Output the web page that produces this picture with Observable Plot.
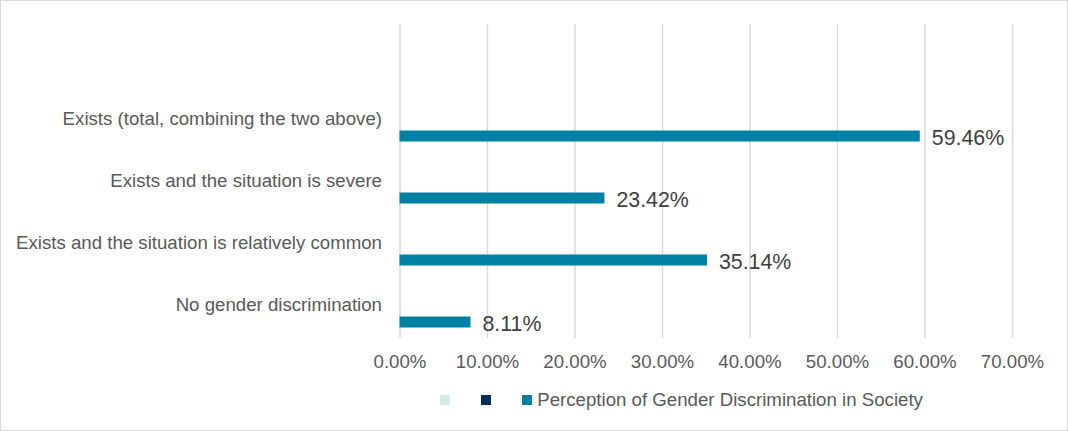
<!DOCTYPE html>
<html>
<head>
<meta charset="utf-8">
<script src="https://cdn.jsdelivr.net/npm/d3@7"></script>
<script src="https://cdn.jsdelivr.net/npm/@observablehq/plot@0.6"></script>
<style>
  html, body { margin: 0; padding: 0; background: #fff; }
  #wrap { position: relative; width: 1068px; height: 431px; overflow: hidden; font-family: "Liberation Sans", Arial, sans-serif; }
  #frame { position: absolute; left: 0; top: 0; width: 1068px; height: 431px; box-sizing: border-box; border: 1.5px solid #d9d9d9; pointer-events: none; }
  #chart { position: absolute; left: 0; top: 0; }
  #legend { position: absolute; left: 440px; top: 388.5px; height: 22px; display: flex; align-items: center; font-size: 18.67px; color: #595959; white-space: nowrap; }
  .sw { width: 10px; height: 10px; display: inline-block; }
</style>
</head>
<body>
<div id="wrap">
  <div id="chart"></div>
  <div id="legend"></div>
  <div id="frame"></div>
</div>
<script>
// Categories, top to bottom (the first band is an empty Excel category)
const categories = ["", "Exists (total, combining the two above)", "Exists and the situation is severe", "Exists and the situation is relatively common", "No gender discrimination"];
const values = [null, 0.5946, 0.2342, 0.3514, 0.0811];
const seriesNames = ["", "", "Perception of Gender Discrimination in Society"];
const seriesColors = ["#d3ebe4", "#002f5a", "#0080a3"];
const xTicks = [0, 0.1, 0.2, 0.3, 0.4, 0.5, 0.6, 0.7];

const data = categories.map((c, i) => ({category: c, value: values[i]})).filter(d => d.value != null);
const fmt = d3.format(".2%");

const chart = Plot.plot({
  width: 1068,
  height: 380,
  marginLeft: 399.5,
  marginRight: 56,
  marginTop: 24,
  marginBottom: 42,
  style: {fontFamily: "'Liberation Sans', Arial, sans-serif", fontSize: "18.67px", color: "#595959", background: "transparent"},
  x: {domain: [0, 0.7], ticks: xTicks, tickFormat: fmt, tickSize: 0, tickPadding: 16, label: null},
  y: {domain: categories, padding: 0, tickSize: 0, tickPadding: 18, label: null},
  marks: [
    Plot.ruleX(xTicks, {stroke: "#d9d9d9", strokeWidth: 1.5}),
    Plot.barX(data, {x: "value", y: "category", fill: seriesColors[2], insetTop: 42.5, insetBottom: 8.5}),
    Plot.text(data, {x: "value", y: "category", text: d => fmt(d.value), textAnchor: "start", dx: 11.5, dy: 19, fontSize: 21.33, fill: "#404040"})
  ]
});
document.getElementById("chart").appendChild(chart);

// Legend
const legend = document.getElementById("legend");
const gaps = [31, 30.7, 0];
seriesNames.forEach((name, i) => {
  const sw = document.createElement("span");
  sw.className = "sw";
  sw.style.background = seriesColors[i];
  legend.appendChild(sw);
  if (name) {
    const t = document.createElement("span");
    t.textContent = name;
    t.style.marginLeft = "5.5px";
    legend.appendChild(t);
  } else {
    sw.style.marginRight = gaps[i] + "px";
  }
});
</script>
</body>
</html>
